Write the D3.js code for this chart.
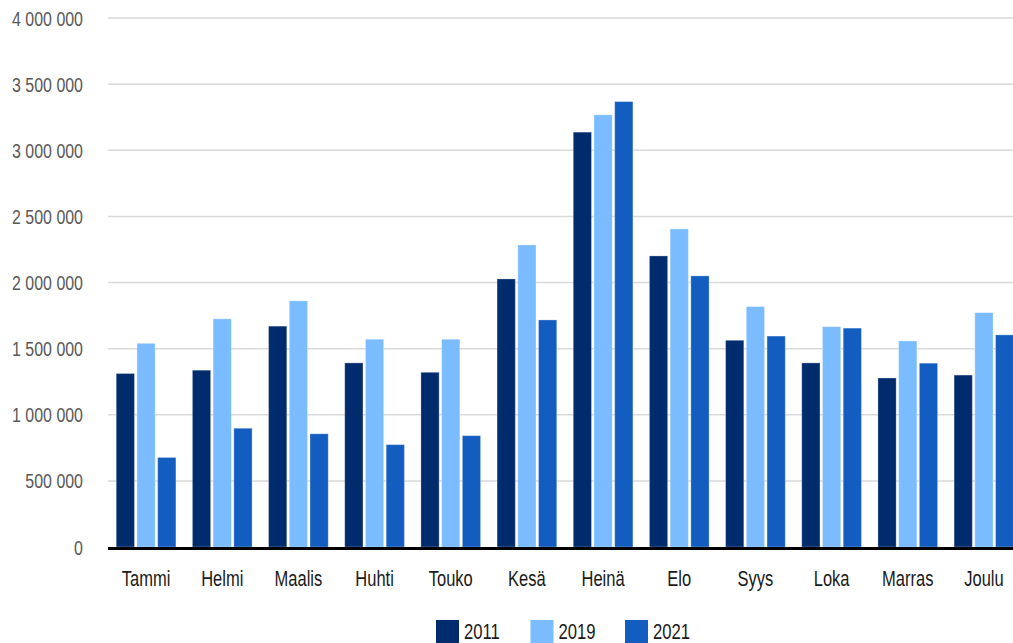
<!DOCTYPE html>
<html>
<head>
<meta charset="utf-8">
<script src="https://cdn.jsdelivr.net/npm/d3@7"></script>
<style>
  body { margin:0; background:#fff; }
  svg text { font-family:"Liberation Sans",Arial,sans-serif; }
</style>
</head>
<body>
<div id="chart"></div>
<script>
const MONTHS = ["Tammi","Helmi","Maalis","Huhti","Touko","Kesä","Heinä","Elo","Syys","Loka","Marras","Joulu"];
const YEARS  = ["2011","2019","2021"];
const V2011 = [1312000,1337000,1670000,1392000,1321000,2027000,3137000,2201000,1563000,1392000,1278000,1300000];
const V2019 = [1540000,1725000,1861000,1571000,1571000,2284000,3268000,2405000,1818000,1666000,1558000,1772000];
const V2021 = [ 677000, 898000, 856000, 774000, 842000,1717000,3368000,2050000,1595000,1655000,1390000,1604000];
const Y_TICKS = [0,500000,1000000,1500000,2000000,2500000,3000000,3500000,4000000];
const colors = { "2011":"#002b6d", "2019":"#7abcff", "2021":"#135cc0" };

const series = { "2011":V2011, "2019":V2019, "2021":V2021 };
const rows = MONTHS.map((m,i) => ({ month:m, values:YEARS.map(y => ({ year:y, v:series[y][i] })) }));

const totalW=1013, totalH=643;
const svg = d3.select("#chart").append("svg").attr("width",totalW).attr("height",totalH);

const fmt = d3.formatLocale({ decimal:",", thousands:"\u00a0", grouping:[3], currency:["","€"] }).format(",d");

const x0 = d3.scaleBand().domain(MONTHS).range([108,1022]).paddingInner(0.2165).paddingOuter(0.108);
const x1 = d3.scaleBand().domain(YEARS).range([0,x0.bandwidth()]).paddingInner(0.12);
const y  = d3.scaleLinear().domain([0,4000000]).range([547,18]);

// gridlines
svg.append("g").selectAll("line").data(Y_TICKS.slice(1)).enter().append("line")
    .attr("x1",108).attr("x2",totalW).attr("y1",d=>y(d)).attr("y2",d=>y(d))
    .attr("stroke","#d9d9d9").attr("stroke-width",1.5);

// y labels (condensed look: regular sans squeezed horizontally)
svg.append("g").selectAll("text").data(Y_TICKS).enter().append("text")
    .attr("transform",d=>`translate(83,${y(d)}) scale(0.76,1)`)
    .attr("dy","0.36em").attr("text-anchor","end")
    .attr("fill","#595959").style("font-size","21px").text(d=>fmt(d));

// bars
svg.append("g").selectAll("g").data(rows).enter().append("g")
    .attr("transform",d=>`translate(${x0(d.month)},0)`)
    .selectAll("rect").data(d=>d.values).enter().append("rect")
        .attr("x",d=>x1(d.year)).attr("width",x1.bandwidth())
        .attr("y",d=>y(d.v)).attr("height",d=>y(0)-y(d.v))
        .attr("fill",d=>colors[d.year])
        .attr("stroke","#fff").attr("stroke-opacity",0.3).attr("stroke-width",1);

// baseline
svg.append("line").attr("x1",108).attr("x2",totalW).attr("y1",y(0)+1.5).attr("y2",y(0)+1.5)
    .attr("stroke","#000").attr("stroke-width",3);

// x labels
svg.append("g").selectAll("text").data(MONTHS).enter().append("text")
    .attr("transform",d=>`translate(${x0(d)+x0.bandwidth()/2},586) scale(0.75,1)`)
    .attr("text-anchor","middle")
    .attr("fill","#1a1a1a").style("font-size","22px").text(d=>d);

// legend
const leg = svg.append("g").selectAll("g").data(YEARS).enter().append("g")
    .attr("transform",(d,i)=>`translate(${436+i*94.5},620)`);
leg.append("rect").attr("width",23).attr("height",23).attr("fill",d=>colors[d]);
leg.append("text").attr("transform","translate(28,18.5) scale(0.757,1)")
    .attr("fill","#1a1a1a").style("font-size","22px").text(d=>d);
</script>
</body>
</html>
